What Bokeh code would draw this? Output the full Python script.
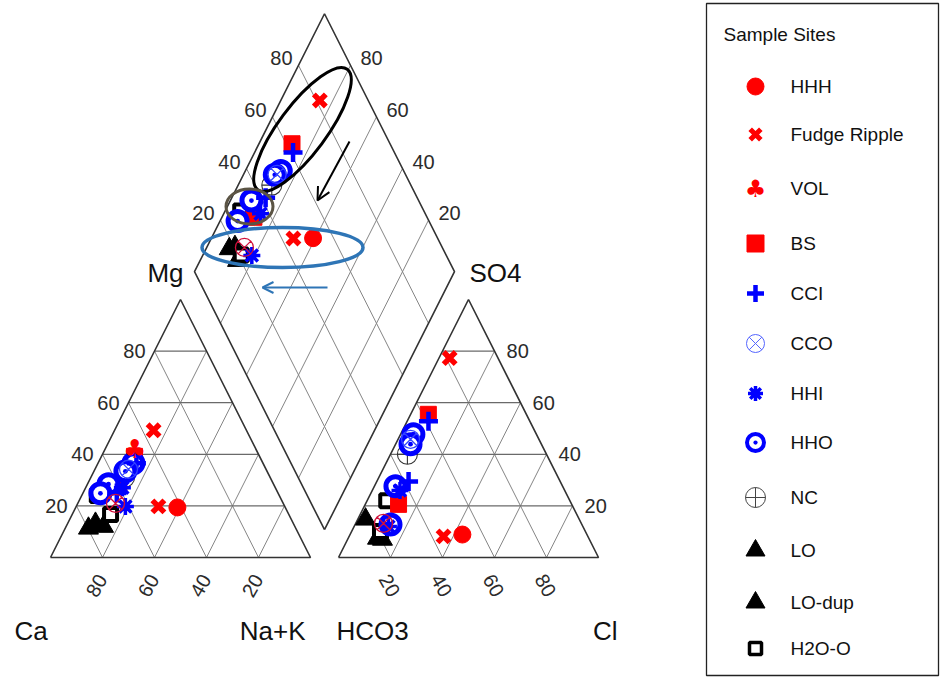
import numpy as np
from bokeh.plotting import figure
from bokeh.models import Range1d, Arrow, OpenHead
from bokeh.core.properties import value
from bokeh.embed import file_html
from bokeh.resources import INLINE

# ---------------- sample chemistry (% of meq/L) ----------------
site = ["HHH", "Fudge Ripple", "Fudge Ripple", "VOL", "BS", "BS", "CCI", "CCI",
        "CCO", "CCO", "HHI", "HHI", "HHO", "HHO", "HHO", "HHO", "NC",
        "LO", "LO", "LO-dup", "H2O-O", "H2O-O"]
event = [2, 1, 2, 1, 1, 2, 1, 2,
         1, 2, 2, 2, 1, 1, 2, 2, 1,
         2, 2, 2, 2, 2]
ca   = [41.5, 35.7, 48.6, 46.7, 48.1, 59.7, 48.7, 62.0,
        52.9, 64.5, 61.3, 58.85, 49.85, 54.5, 63.5, 68.35, 55.95,
        79.75, 76.1, 73.6, 68.55, 70.0]
mg   = [19.4, 49.3, 19.8, 41.9, 39.2, 28.0, 36.5, 25.0,
        34.2, 21.0, 19.8, 27.0, 36.5, 33.4, 28.4, 24.9, 31.1,
        11.3, 13.2, 12.0, 16.7, 24.0]
nak  = [39.1, 15.0, 31.6, 11.4, 12.7, 12.3, 14.8, 13.0,
        12.9, 14.5, 18.9, 14.15, 13.65, 12.1, 8.1, 6.75, 12.95,
        8.95, 10.7, 14.4, 14.75, 6.0]
hco3 = [47.9, 18.6, 55.5, 42.3, 37.7, 66.6, 39.0, 58.3,
        49.4, 76.1, 74.8, 63.35, 47.3, 50.35, 64.3, 73.6, 53.5,
        82.2, 79.6, 81.3, 78.8, 70.45]
so4  = [8.9, 77.3, 8.2, 46.2, 55.5, 20.6, 52.8, 29.5,
        45.8, 13.2, 12.0, 26.0, 47.8, 43.9, 27.6, 12.8, 40.0,
        14.8, 7.0, 7.4, 10.1, 22.0]
cl   = [43.2, 4.1, 36.3, 11.5, 6.8, 12.8, 8.2, 12.2,
        4.8, 10.7, 13.2, 10.65, 4.9, 5.75, 8.1, 13.6, 6.5,
        3.0, 13.4, 11.3, 11.1, 7.55]

legend_sites = ["HHH", "Fudge Ripple", "VOL", "BS", "CCI", "CCO", "HHI",
                "HHO", "NC", "LO", "LO-dup", "H2O-O"]
ticks = [20, 40, 60, 80]

# ---------------- Piper geometry ----------------
W, H = 940, 677
X0, Y0 = 50.0, 557.0      # Ca corner of the cation triangle (screen px)
SX, SY = 2.6, 2.979       # px per percent unit, horizontal / vertical
GAP = 10.77               # gap between the two triangles, percent units
R3 = np.sqrt(3) / 2


def px(ux, uy):
    return X0 + SX * np.asarray(ux, float), Y0 - SY * np.asarray(uy, float)


def cation_xy(c, m, n):
    c, m, n = (np.asarray(v, float) for v in (c, m, n))
    s = c + m + n
    return px(100 * (n + m / 2) / s, 100 * m * R3 / s)


def anion_xy(h, s4, c):
    h, s4, c = (np.asarray(v, float) for v in (h, s4, c))
    s = h + s4 + c
    return px(100 + GAP + 100 * (c + s4 / 2) / s, 100 * s4 * R3 / s)


def diamond_xy(a, b):
    a, b = np.asarray(a, float), np.asarray(b, float)
    return px(100 + GAP / 2 + 0.5 * (b - a), R3 * (GAP + a + b))


p = figure(width=W, height=H, x_range=Range1d(0, W), y_range=Range1d(H, 0),
           x_axis_type=None, y_axis_type=None, toolbar_location=None,
           output_backend="svg", min_border=0, outline_line_color=None,
           background_fill_color="white", border_fill_color="white")
p.grid.visible = False

FONT = value("Liberation Sans")
GRID_H = dict(line_color="#6a6a6a", line_width=1.2)
GRID_D = dict(line_color="#858585", line_width=1.0)
EDGE = dict(line_color="#333333", line_width=1.6)

# ---------------- triangles ----------------
for off in (0.0, 100 + GAP):
    hx, hy, dx, dy = [], [], [], []
    for t in ticks:
        f = t / 100
        x1, y1 = px([off + 50 * f, off + 100 - 50 * f], [100 * f * R3] * 2)
        hx.append(list(x1)); hy.append(list(y1))
        x2, y2 = px([off + 100 - t, off + (100 - t) / 2], [0, (100 - t) * R3])
        dx.append(list(x2)); dy.append(list(y2))
        x3, y3 = px([off + t, off + t + (100 - t) / 2], [0, (100 - t) * R3])
        dx.append(list(x3)); dy.append(list(y3))
    p.multi_line(dx, dy, **GRID_D)
    p.multi_line(hx, hy, **GRID_H)
    tx, ty = px([off, off + 100, off + 50, off], [0, 0, 100 * R3, 0])
    p.line(tx, ty, **EDGE)

# ---------------- diamond ----------------
gx, gy = [], []
for t in ticks:
    x1, y1 = diamond_xy([t, t], [0, 100]); gx.append(list(x1)); gy.append(list(y1))
    x2, y2 = diamond_xy([0, 100], [t, t]); gx.append(list(x2)); gy.append(list(y2))
p.multi_line(gx, gy, **GRID_D)
dxs, dys = diamond_xy([0, 100, 100, 0, 0], [0, 0, 100, 100, 0])
p.line(dxs, dys, **EDGE)

# ---------------- tick labels ----------------
TK = dict(text_font=FONT, text_font_size="20px", text_color="#2b2b2b",
          text_baseline="middle")
lab = [str(t) for t in ticks]
tv = np.array(ticks, float)

x, y = px(tv / 2, tv * R3)                          # Mg, cation triangle
p.text(x - 9, y, text=lab, text_align="right", **TK)
x, y = px(100 - tv, 0 * tv)                          # Ca, cation base
p.text(x - 6, y + 28, text=lab, text_align="center", angle=np.pi / 3, **TK)
x, y = px(200 + GAP - tv / 2, tv * R3)               # SO4, anion triangle
p.text(x + 12, y, text=lab, text_align="left", **TK)
x, y = px(100 + GAP + tv, 0 * tv)                    # Cl, anion base
p.text(x - 1, y + 28, text=lab, text_align="center", angle=-np.pi / 3, **TK)
x, y = diamond_xy(100 + 0 * tv, tv)                  # SO4+Cl, diamond
p.text(x - 6, y - 7, text=lab, text_align="right", **TK)
x, y = diamond_xy(tv, 100 + 0 * tv)                  # Ca+Mg, diamond
p.text(x + 10, y - 7, text=lab, text_align="left", **TK)

# ---------------- corner labels ----------------
CL = dict(text_font=FONT, text_font_size="26px", text_color="#111111",
          text_baseline="middle")
ax_, ay_ = px([50, 150 + GAP], [100 * R3, 100 * R3])
p.text([ax_[0] + 3], [ay_[0] - 27], text=["Mg"], text_align="right", **CL)
p.text([ax_[1] + 1], [ay_[1] - 27], text=["SO4"], text_align="left", **CL)
bx, by = px([0, 100, 100 + GAP, 200 + GAP], [0, 0, 0, 0])
p.text([bx[0] - 36], [by[0] + 73], text=["Ca"], text_align="left", **CL)
p.text([bx[1] - 5], [by[1] + 73], text=["Na+K"], text_align="right", **CL)
p.text([bx[2] - 2], [by[2] + 73], text=["HCO3"], text_align="left", **CL)
p.text([bx[3] + 19], [by[3] + 73], text=["Cl"], text_align="right", **CL)

# ---------------- sample points ----------------
RED, BLUE = "#ff0000", "#0000ff"
MARK = {
    "HHH": dict(marker="circle", size=17, fill_color=RED, line_color=RED),
    "Fudge Ripple": dict(marker="x", size=17, line_color=RED, line_width=5.5),
    "BS": dict(marker="square", size=16, fill_color=RED, line_color=RED),
    "CCI": dict(marker="cross", size=19, line_color=BLUE, line_width=4.5),
    "CCO": dict(marker="circle_x", size=18, fill_color=None, line_color="#3344ff",
                line_width=1.3),
    "HHI": dict(marker="asterisk", size=17, line_color=BLUE, line_width=3.5),
    "HHO": dict(marker="circle_dot", size=19, fill_color="white", line_color=BLUE,
                line_width=5),
    "NC": dict(marker="circle_cross", size=20, fill_color=None, line_color="#333333",
               line_width=1.1),
    "LO": dict(marker="triangle", size=20, fill_color="black", line_color="black"),
    "LO-dup": dict(marker="triangle", size=20, fill_color="black", line_color="black"),
    "H2O-O": dict(marker="square", size=13, fill_color="white", line_color="black",
                  line_width=4),
}
CLUB = dict(text=["\u2663"], text_font=value("DejaVu Sans"), text_font_size="26px",
            text_color=RED, text_align="center", text_baseline="middle")

site_a = np.array(site)
ev = np.array(event)
cx, cy = cation_xy(ca, mg, nak)
axp, ayp = anion_xy(hco3, so4, cl)
dxp, dyp = diamond_xy(np.array(ca) + np.array(mg), np.array(so4) + np.array(cl))

draw_order = ["LO", "LO-dup", "H2O-O", "BS", "NC", "HHO", "HHI", "CCI", "VOL",
              "Fudge Ripple", "HHH", "CCO"]
for name in draw_order:
    sel = site_a == name
    xs = np.concatenate([cx[sel], axp[sel], dxp[sel]])
    ys = np.concatenate([cy[sel], ayp[sel], dyp[sel]])
    if name == "VOL":
        p.text(xs, ys, **CLUB)
    elif name == "CCO":
        e = np.tile(ev[sel], 3)
        style = dict(MARK[name])
        p.scatter(xs[e == 1], ys[e == 1], **style)
        style["line_color"] = "#d0103a"
        p.scatter(xs[e == 2], ys[e == 2], **style)
    else:
        p.scatter(xs, ys, **MARK[name])

# ---------------- grouping annotations ----------------
p.ellipse(x=[302], y=[129], width=[150], height=[48], angle=np.deg2rad(53.4),
          width_units="screen", height_units="screen", fill_color=None,
          line_color="black", line_width=3)
p.ellipse(x=[249], y=[206], width=[47], height=[35], width_units="screen",
          height_units="screen", fill_color=None, line_color="#5b5444", line_width=3)
p.ellipse(x=[282], y=[247], width=[161], height=[40], width_units="screen",
          height_units="screen", fill_color=None, line_color="#2e75b6", line_width=3.5)
p.add_layout(Arrow(end=OpenHead(size=13, line_color="black", line_width=2),
                   x_start=349, y_start=141, x_end=317, y_end=200,
                   line_color="black", line_width=2))
p.add_layout(Arrow(end=OpenHead(size=11, line_color="#2e75b6", line_width=2),
                   x_start=327, y_start=287, x_end=262, y_end=287,
                   line_color="#2e75b6", line_width=2))

# ---------------- legend ----------------
p.quad(left=[706], right=[938], top=[3], bottom=[675], fill_color="white",
       line_color="#222222", line_width=1.3)
p.text([723], [34], text=["Sample Sites"], text_font=FONT, text_font_size="19px",
       text_color="#111111", text_align="left", text_baseline="middle")
ly = [86, 134, 188, 243, 293, 343, 393, 442, 497, 550, 602, 648]
LEG = {
    "HHH": dict(MARK["HHH"], size=17),
    "Fudge Ripple": dict(MARK["Fudge Ripple"], size=15, line_width=5),
    "BS": dict(MARK["BS"], size=17),
    "CCI": dict(MARK["CCI"], size=17, line_width=4.5),
    "CCO": dict(MARK["CCO"], size=18, line_color="#5566ff", line_width=1),
    "HHI": dict(MARK["HHI"], size=15, line_width=3.5),
    "HHO": dict(MARK["HHO"], size=17, line_width=4),
    "NC": dict(MARK["NC"], size=20, line_color="#444444", line_width=1),
    "LO": dict(MARK["LO"], size=19),
    "LO-dup": dict(MARK["LO-dup"], size=19),
    "H2O-O": dict(MARK["H2O-O"], size=12, line_width=3.5),
}
for name, yy in zip(legend_sites, ly):
    if name == "VOL":
        p.text([755], [yy], **dict(CLUB, text_font_size="24px"))
    else:
        p.scatter([755], [yy], **LEG[name])
p.text([790] * len(ly), ly, text=legend_sites, text_font=FONT, text_font_size="19px",
       text_color="#111111", text_align="left", text_baseline="middle")

open("out.html", "w").write(file_html(p, INLINE))
